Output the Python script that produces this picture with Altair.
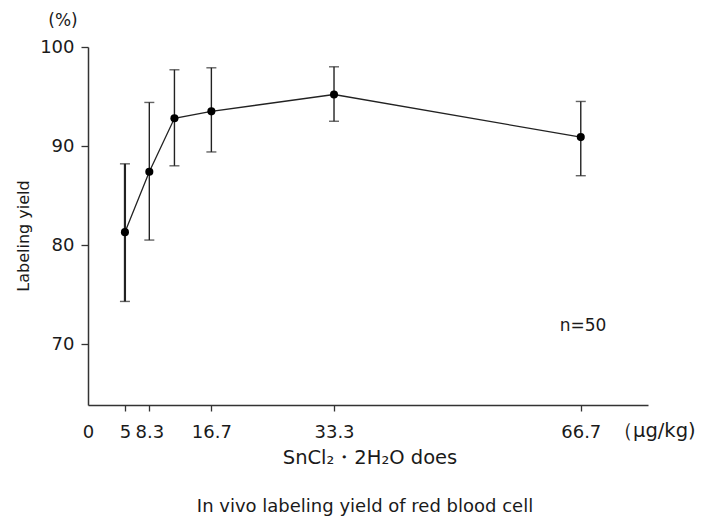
import altair as alt
import pandas as pd

# ---- data ----
dose = [5, 8.3, 11.7, 16.7, 33.3, 66.7]
mean = [81.3, 87.4, 92.8, 93.5, 95.2, 90.9]
upper = [88.2, 94.4, 97.7, 97.9, 98.0, 94.5]
lower = [74.3, 80.5, 88.0, 89.4, 92.5, 87.0]
bar_width = [2.2, 1.4, 1.4, 1.4, 1.4, 1.4]

x_ticks = [0, 5, 8.3, 16.7, 33.3, 66.7]
y_ticks = [70, 80, 90, 100]

df = pd.DataFrame({"dose": dose, "mean": mean, "upper": upper,
                   "lower": lower, "bw": bar_width})

FONT = "DejaVu Sans"
INK = "#1a1a1a"
W, H = 560, 358

xscale = alt.Scale(domain=[0, 75.8], nice=False, zero=False)
yscale = alt.Scale(domain=[63.84, 100], nice=False, zero=False)

xaxis = alt.Axis(values=x_ticks, title=None, grid=False, labelFlush=False,
                 labelOverlap=False, tickSize=6, labelPadding=12,
                 labelFontSize=18, labelFont=FONT, labelColor=INK,
                 domainColor="#333", tickColor="#333", domainWidth=1.5,
                 tickWidth=1.3, labelExpr="datum.value === 0 ? '0' : format(datum.value, '.10~g')",
                 tickOpacity={"condition": {"test": "datum.value === 0", "value": 0}, "value": 1})
yaxis = alt.Axis(values=y_ticks, title=None, grid=False, labelFlush=False,
                 tickSize=7, labelPadding=7, labelFontSize=18, labelFont=FONT,
                 labelColor=INK, domainColor="#333", tickColor="#333",
                 domainWidth=1.5, tickWidth=1.3)

base = alt.Chart(df)

line = base.mark_line(color="#222", strokeWidth=1.3).encode(
    x=alt.X("dose:Q", scale=xscale, axis=xaxis),
    y=alt.Y("mean:Q", scale=yscale, axis=yaxis),
)

err = base.mark_rule(color="#222").encode(
    x=alt.X("dose:Q", scale=xscale),
    y=alt.Y("lower:Q", scale=yscale),
    y2="upper:Q",
    strokeWidth=alt.StrokeWidth("bw:Q", scale=None, legend=None),
)

cap_hi = base.mark_tick(color="#222", orient="horizontal", size=10, thickness=1.4).encode(
    x=alt.X("dose:Q", scale=xscale), y=alt.Y("upper:Q", scale=yscale))
cap_lo = base.mark_tick(color="#222", orient="horizontal", size=10, thickness=1.4).encode(
    x=alt.X("dose:Q", scale=xscale), y=alt.Y("lower:Q", scale=yscale))

pts = base.mark_point(filled=True, color="#000", size=65, opacity=1).encode(
    x=alt.X("dose:Q", scale=xscale), y=alt.Y("mean:Q", scale=yscale))

# ---- annotations ----
ann_text = ["(%)", "n=50", "SnCl₂・2H₂O does", "In vivo labeling yield of red blood cell"]
ann_x = [-25, 495, 282, 277]
ann_y = [-26, 279, 411, 460]
ann_size = [17, 17, 19.5, 18]

def txt(t, x, y, size, align="center", angle=0):
    return alt.Chart(pd.DataFrame({"t": [t]})).mark_text(
        font=FONT, fontSize=size, color=INK, align=align, baseline="middle", angle=angle
    ).encode(text="t:N", x=alt.value(x), y=alt.value(y))

anns = [txt(t, x, y, s) for t, x, y, s in zip(ann_text, ann_x, ann_y, ann_size)]
anns.append(txt("（μg/kg)", 525, 384, 19.5, align="left"))
anns.append(txt("Labeling yield", -64, 189, 16, angle=270))

chart = alt.layer(line, err, cap_hi, cap_lo, pts, *anns).properties(
    width=W, height=H,
    autosize=alt.AutoSizeParams(type="none"),
    padding={"left": 88, "top": 47, "right": 57, "bottom": 118},
    background="white",
).configure_view(stroke=None)

chart.save("out.html", embed_options={"renderer": "svg", "actions": False})
